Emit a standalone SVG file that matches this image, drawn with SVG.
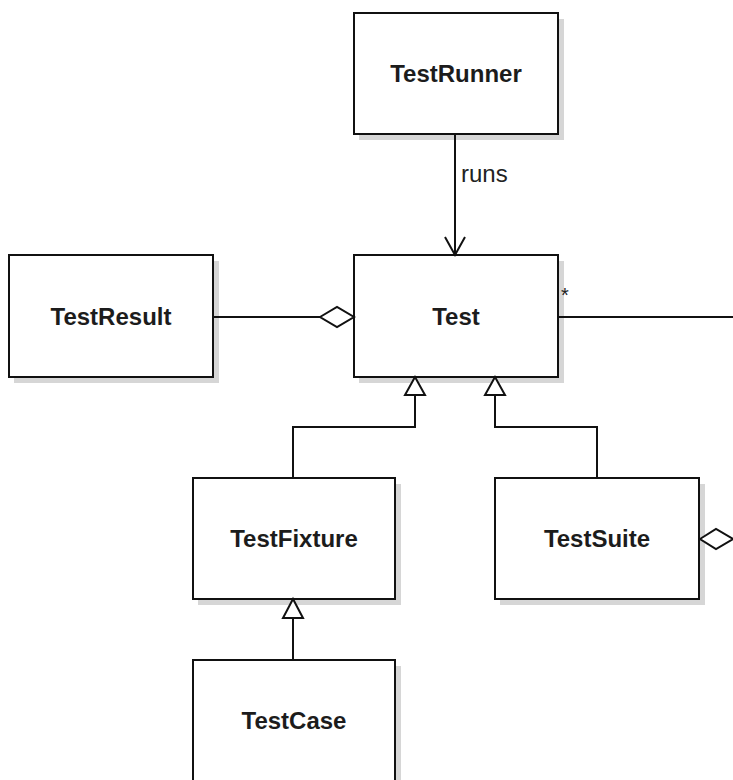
<svg xmlns="http://www.w3.org/2000/svg" width="733" height="780" viewBox="0 0 733 780">
<defs>
<style>
.shadow{fill:#d6d6d6;}
.box{fill:#ffffff;stroke:#111111;stroke-width:2;}
.name{font-family:"Liberation Sans",Arial,sans-serif;font-weight:bold;font-size:24px;fill:#1c1c1c;text-anchor:middle;}
.lbl{font-family:"Liberation Sans",Arial,sans-serif;font-size:24px;fill:#222222;}
.conn{fill:none;stroke:#111111;stroke-width:2;}
.head{fill:#ffffff;stroke:#111111;stroke-width:2;}
</style>
</defs>
<rect width="733" height="780" fill="#ffffff"/>
<g id="TestRunner">
<rect class="shadow" x="359" y="19" width="205" height="121"/>
<rect class="box" x="354" y="13" width="204" height="121"/>
<text class="name" x="456" y="82">TestRunner</text>
</g>
<g id="TestResult">
<rect class="shadow" x="14" y="261" width="205" height="122"/>
<rect class="box" x="9" y="255" width="204" height="122"/>
<text class="name" x="111" y="325">TestResult</text>
</g>
<g id="Test">
<rect class="shadow" x="359" y="261" width="205" height="122"/>
<rect class="box" x="354" y="255" width="204" height="122"/>
<text class="name" x="456" y="325">Test</text>
</g>
<g id="TestFixture">
<rect class="shadow" x="198" y="484" width="203" height="121"/>
<rect class="box" x="193" y="478" width="202" height="121"/>
<text class="name" x="294" y="547">TestFixture</text>
</g>
<g id="TestSuite">
<rect class="shadow" x="500" y="484" width="205" height="121"/>
<rect class="box" x="495" y="478" width="204" height="121"/>
<text class="name" x="597" y="547">TestSuite</text>
</g>
<g id="TestCase">
<rect class="shadow" x="198" y="666" width="203" height="130"/>
<rect class="box" x="193" y="660" width="202" height="130"/>
<text class="name" x="294" y="729">TestCase</text>
</g>
<g id="connectors">
<line class="conn" x1="455" y1="134" x2="455" y2="255"/>
<polyline class="conn" points="445,237 455,255 465,237"/>
<text class="lbl" x="461" y="182">runs</text>
<line class="conn" x1="213" y1="317" x2="320" y2="317"/>
<polygon class="head" points="320,317 337,307 354,317 337,327"/>
<line class="conn" x1="558" y1="317" x2="733" y2="317"/>
<text class="lbl" x="561" y="302" style="font-size:20px">*</text>
<polyline class="conn" points="293,478 293,427 415,427 415,395"/>
<polygon class="head" points="415,377 405,395 425,395"/>
<polyline class="conn" points="597,478 597,427 495,427 495,395"/>
<polygon class="head" points="495,377 485,395 505,395"/>
<polygon class="head" points="700,539 716,529 733,539 716,549"/>
<line class="conn" x1="293" y1="660" x2="293" y2="618"/>
<polygon class="head" points="293,599 283,618 303,618"/>
</g>
</svg>
